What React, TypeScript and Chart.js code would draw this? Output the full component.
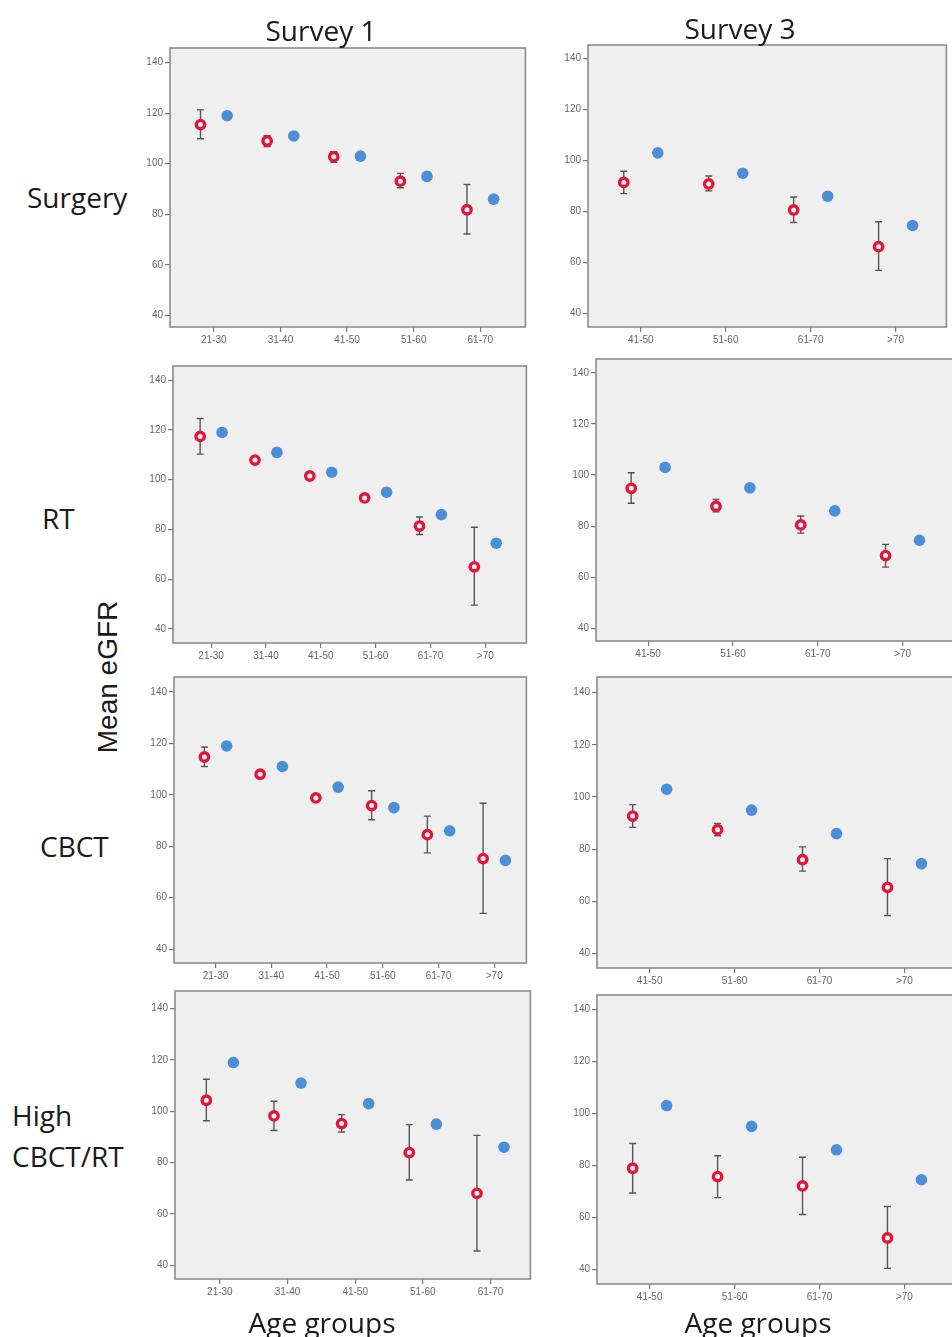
import React, { useEffect, useRef } from "react";
import { Chart, registerables } from "chart.js";

Chart.register(...registerables);

// ---------- data ----------
const ageGroups = ["21-30", "31-40", "41-50", "51-60", "61-70", ">70"];
const yTickValues = [40, 60, 80, 100, 120, 140];
// reference (blue) mean eGFR per age group
const populationEGFR = [119, 111, 103, 95, 86, 74.5];

const surgerySurvey1Mean = [115.5, 109, 102.8, 93.1, 81.8];
const surgerySurvey1Lower = [109.9, 106.8, 100.6, 90.5, 72.2];
const surgerySurvey1Upper = [121.3, 111.1, 104.8, 96.2, 91.8];

const surgerySurvey3Mean = [91.4, 90.8, 80.6, 66.2];
const surgerySurvey3Lower = [87.0, 88.1, 75.7, 56.9];
const surgerySurvey3Upper = [95.8, 93.9, 85.7, 76.0];

const rtSurvey1Mean = [117.4, 107.9, 101.5, 92.7, 81.4, 65.0];
const rtSurvey1Lower = [110.3, 106.8, 100.5, 91.6, 78.0, 49.6];
const rtSurvey1Upper = [124.6, 109.0, 102.5, 93.8, 85.0, 80.9];

const rtSurvey3Mean = [94.8, 87.8, 80.5, 68.5];
const rtSurvey3Lower = [89.0, 85.6, 77.3, 64.0];
const rtSurvey3Upper = [100.9, 90.5, 84.0, 72.9];

const cbctSurvey1Mean = [114.7, 108.0, 98.8, 95.8, 84.5, 75.2];
const cbctSurvey1Lower = [111.0, 107.0, 97.8, 90.3, 77.4, 53.9];
const cbctSurvey1Upper = [118.6, 109.0, 99.8, 101.6, 91.7, 96.7];

const cbctSurvey3Mean = [92.7, 87.5, 76.0, 65.4];
const cbctSurvey3Lower = [88.4, 85.2, 71.6, 54.6];
const cbctSurvey3Upper = [97.1, 89.9, 80.9, 76.4];

const highSurvey1Mean = [104.3, 98.2, 95.2, 83.9, 68.0];
const highSurvey1Lower = [96.3, 92.5, 91.9, 73.2, 45.5];
const highSurvey1Upper = [112.5, 103.9, 98.7, 94.8, 90.6];

const highSurvey3Mean = [78.9, 75.7, 72.1, 52.1];
const highSurvey3Lower = [69.4, 67.6, 61.1, 40.4];
const highSurvey3Upper = [88.4, 83.7, 83.1, 64.2];

// ---------- layout ----------
type PanelCfg = {
  start: number;
  mean: number[];
  lower: number[];
  upper: number[];
  box: { l: number; t: number; r: number; b: number };
  xMin: number;
  xMax: number;
  yMin: number;
  yMax: number;
};

const panels: PanelCfg[] = [
  { start: 0, mean: surgerySurvey1Mean, lower: surgerySurvey1Lower, upper: surgerySurvey1Upper,
    box: { l: 170, t: 46, r: 527, b: 327 }, xMin: -0.658, xMax: 4.677, yMin: 35.4, yMax: 145.8 },
  { start: 2, mean: surgerySurvey3Mean, lower: surgerySurvey3Lower, upper: surgerySurvey3Upper,
    box: { l: 588, t: 43, r: 948, b: 327 }, xMin: -0.621, xMax: 3.598, yMin: 34.7, yMax: 145.3 },
  { start: 0, mean: rtSurvey1Mean, lower: rtSurvey1Lower, upper: rtSurvey1Upper,
    box: { l: 173, t: 364, r: 528, b: 643 }, xMin: -0.695, xMax: 5.75, yMin: 34.4, yMax: 145.7 },
  { start: 2, mean: rtSurvey3Mean, lower: rtSurvey3Lower, upper: rtSurvey3Upper,
    box: { l: 596, t: 357, r: 955, b: 641 }, xMin: -0.615, xMax: 3.6, yMin: 35.1, yMax: 145.4 },
  { start: 0, mean: cbctSurvey1Mean, lower: cbctSurvey1Lower, upper: cbctSurvey1Upper,
    box: { l: 174, t: 675, r: 528, b: 963 }, xMin: -0.745, xMax: 5.577, yMin: 34.6, yMax: 145.8 },
  { start: 2, mean: cbctSurvey3Mean, lower: cbctSurvey3Lower, upper: cbctSurvey3Upper,
    box: { l: 597, t: 675, r: 957, b: 968 }, xMin: -0.62, xMax: 3.6, yMin: 34.5, yMax: 146 },
  { start: 0, mean: highSurvey1Mean, lower: highSurvey1Lower, upper: highSurvey1Upper,
    box: { l: 175, t: 989, r: 532, b: 1279 }, xMin: -0.663, xMax: 4.59, yMin: 34.6, yMax: 146.9 },
  { start: 2, mean: highSurvey3Mean, lower: highSurvey3Lower, upper: highSurvey3Upper,
    box: { l: 597, t: 993, r: 957, b: 1284 }, xMin: -0.62, xMax: 3.6, yMin: 34.4, yMax: 145.5 },
];

const ML = 40;
const MT = 6;
const MR = 6;
const MB = 30;
const RED = "#e3153a";
const BLUE = "#4a8fd8";
const OFFSET = 0.2;
const tickFont = { family: "'Liberation Sans', Arial, sans-serif", size: 10 };

const bgPlugin = {
  id: "panelBg",
  beforeDraw(chart: any) {
    const { ctx, chartArea: a } = chart;
    ctx.save();
    ctx.fillStyle = "#efefef";
    ctx.fillRect(a.left, a.top, a.right - a.left, a.bottom - a.top);
    ctx.restore();
  },
  afterDraw(chart: any) {
    const { ctx, chartArea: a } = chart;
    ctx.save();
    ctx.strokeStyle = "#8c8c8c";
    ctx.lineWidth = 1.6;
    ctx.strokeRect(a.left, a.top, a.right - a.left, a.bottom - a.top);
    ctx.restore();
  },
};

function Panel({ cfg }: { cfg: PanelCfg }) {
  const ref = useRef<HTMLCanvasElement>(null);
  const w = cfg.box.r - cfg.box.l + ML + MR;
  const h = cfg.box.b - cfg.box.t + MT + MB;
  useEffect(() => {
    const n = cfg.mean.length;
    const cats = ageGroups.slice(cfg.start, cfg.start + n);
    const pop = populationEGFR.slice(cfg.start, cfg.start + n);
    const redPts = cfg.mean.map((v, i) => ({ x: i - OFFSET, y: v }));
    const bluePts = pop.map((v, i) => ({ x: i + OFFSET, y: v }));

    const errPlugin = {
      id: "errBars",
      beforeDatasetsDraw(chart: any) {
        const { ctx, scales } = chart;
        ctx.save();
        ctx.strokeStyle = "#555";
        ctx.lineWidth = 1.4;
        cfg.mean.forEach((_, i) => {
          const x = scales.x.getPixelForValue(i - OFFSET);
          const y1 = scales.y.getPixelForValue(cfg.lower[i]);
          const y2 = scales.y.getPixelForValue(cfg.upper[i]);
          ctx.beginPath();
          ctx.moveTo(x, y1);
          ctx.lineTo(x, y2);
          ctx.moveTo(x - 3.5, y1);
          ctx.lineTo(x + 3.5, y1);
          ctx.moveTo(x - 3.5, y2);
          ctx.lineTo(x + 3.5, y2);
          ctx.stroke();
        });
        ctx.restore();
      },
    };

    const chart = new Chart(ref.current as HTMLCanvasElement, {
      type: "scatter",
      data: {
        datasets: [
          {
            data: redPts,
            pointRadius: 4.2,
            pointBorderWidth: 3.4,
            pointBorderColor: RED,
            pointBackgroundColor: "#f2f2f2",
            showLine: false,
          },
          {
            data: bluePts,
            pointRadius: 5.8,
            pointBorderWidth: 0,
            pointBackgroundColor: BLUE,
            pointBorderColor: BLUE,
            showLine: false,
          },
          {
            data: [...redPts, ...bluePts],
            pointRadius: 1,
            pointBorderWidth: 0,
            pointBackgroundColor: "#555",
            showLine: false,
          },
        ],
      },
      options: {
        animation: false,
        responsive: false,
        maintainAspectRatio: false,
        events: [],
        layout: { padding: { top: MT, right: MR, left: 0, bottom: 0 } },
        plugins: { legend: { display: false }, tooltip: { enabled: false } },
        scales: {
          x: {
            type: "linear",
            min: cfg.xMin,
            max: cfg.xMax,
            afterFit: (a: any) => {
              a.height = MB;
            },
            afterBuildTicks: (a: any) => {
              a.ticks = cats.map((_, i) => ({ value: i }));
            },
            ticks: {
              autoSkip: false,
              maxRotation: 0,
              padding: 2,
              color: "#666",
              font: tickFont,
              callback: (v: any) => cats[Math.round(Number(v))] ?? "",
            },
            grid: { drawOnChartArea: false, drawTicks: true, tickLength: 5, color: "#777", lineWidth: 1.2 },
            border: { display: false },
          },
          y: {
            type: "linear",
            min: cfg.yMin,
            max: cfg.yMax,
            afterFit: (a: any) => {
              a.width = ML;
            },
            afterBuildTicks: (a: any) => {
              a.ticks = yTickValues.map((v) => ({ value: v }));
            },
            ticks: { padding: 2, color: "#666", font: tickFont },
            grid: { drawOnChartArea: false, drawTicks: true, tickLength: 5, color: "#777", lineWidth: 1.2 },
            border: { display: false },
          },
        },
      },
      plugins: [bgPlugin, errPlugin],
    } as any);
    return () => chart.destroy();
  }, [cfg]);
  return (
    <canvas
      ref={ref}
      width={w}
      height={h}
      style={{ position: "absolute", left: cfg.box.l - ML, top: cfg.box.t - MT, width: w, height: h }}
    />
  );
}

const labelFont = "'Open Sans', 'Noto Sans', sans-serif";

function Label({ text, x, y, align = "left", size = 28, family = labelFont }: any) {
  const style: React.CSSProperties = {
    position: "absolute",
    top: y,
    fontFamily: family,
    fontSize: size,
    color: "#1a1a1a",
    whiteSpace: "nowrap",
    lineHeight: 1,
    transform: align === "center" ? "translate(-50%, -50%)" : "translateY(-50%)",
    left: x,
  };
  return <div style={style}>{text}</div>;
}

export default function App() {
  return (
    <div
      style={{
        position: "absolute",
        left: 0,
        top: 0,
        width: 952,
        height: 1337,
        overflow: "hidden",
        background: "#fff",
      }}
    >
      {panels.map((p, i) => (
        <Panel key={i} cfg={p} />
      ))}
      <Label text="Survey 1" x={321} y={30} align="center" />
      <Label text="Survey 3" x={740} y={28} align="center" />
      <Label text="Surgery" x={27} y={197} />
      <Label text="RT" x={42} y={518} />
      <Label text="CBCT" x={40} y={846} />
      <Label text="High" x={12} y={1115} />
      <Label text="CBCT/RT" x={12} y={1156} />
      <div
        style={{
          position: "absolute",
          left: 108,
          top: 677,
          transform: "translate(-50%, -50%) rotate(-90deg)",
          fontFamily: "'Liberation Sans', Arial, sans-serif",
          fontSize: 28,
          color: "#1a1a1a",
          whiteSpace: "nowrap",
          lineHeight: 1,
        }}
      >
        Mean eGFR
      </div>
      <Label text="Age groups" x={322} y={1322} align="center" />
      <Label text="Age groups" x={758} y={1322} align="center" />
    </div>
  );
}
